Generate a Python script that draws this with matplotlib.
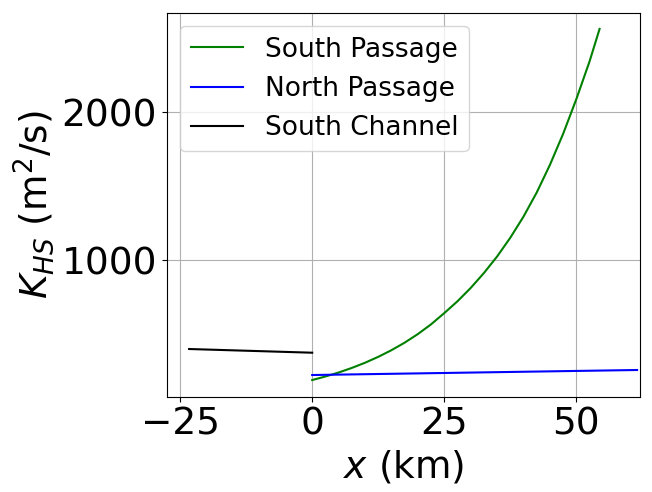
import matplotlib
matplotlib.use("Agg")
import matplotlib.pyplot as plt

# horizontal diffusivity along each branch
x_sp = [0, 2.5, 5, 7.5, 10, 12.5, 15, 17.5, 20, 22.5, 25, 27.5, 30,
        32.5, 35, 37.5, 40, 42.5, 45, 47.5, 50, 52.5, 54.4]
k_sp = [189, 213, 240, 271, 306, 346, 391, 442, 500, 566, 642, 722, 812,
        913, 1025, 1152, 1295, 1458, 1645, 1855, 2090, 2345, 2565]

x_np = [0, 61.5]
k_np = [223, 257]

x_sc = [-23.3, 0]
k_sc = [399, 374]

fig = plt.figure(figsize=(6.52, 4.92), dpi=100)
ax = fig.add_axes([0.256, 0.193, 0.726, 0.781])

ax.plot(x_sp, k_sp, color='green', label='South Passage')
ax.plot(x_np, k_np, color='blue', label='North Passage')
ax.plot(x_sc, k_sc, color='black', label='South Channel')

ax.set_xlim(-27.5, 62.1)
ax.set_ylim(74, 2674)
ax.set_xticks([-25, 0, 25, 50])
ax.set_yticks([1000, 2000])
ax.tick_params(labelsize=27)
ax.set_xlabel('$x$ (km)', fontsize=27)
ax.set_ylabel('$K_{HS}$ (m$^2$/s)', fontsize=27)
ax.grid(True)
ax.legend(loc='upper left', fontsize=19)

fig.savefig('out.png', dpi=100)
